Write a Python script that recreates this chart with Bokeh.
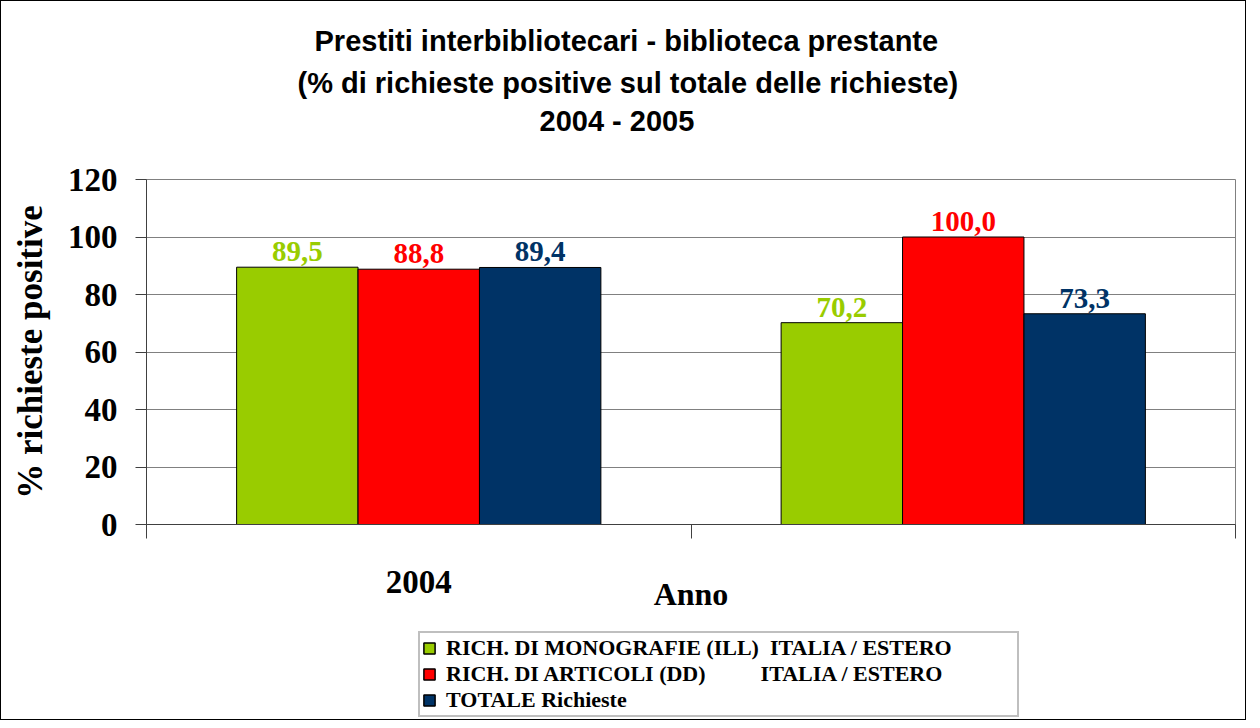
from bokeh.plotting import figure
from bokeh.layouts import column
from bokeh.models import (ColumnDataSource, Range1d, FixedTicker, Title, Legend, LegendItem)
from bokeh.transform import dodge
from bokeh.core.properties import value
from bokeh.embed import file_html
from bokeh.resources import INLINE

# ---- data ----
years = ["2004", "2005"]
monografie = [89.5, 70.2]
articoli = [88.8, 100.0]
totale = [89.4, 73.3]
series_names = ["RICH. DI MONOGRAFIE (ILL)\u00a0 ITALIA / ESTERO",
                "RICH. DI ARTICOLI (DD)" + "\u00a0" * 9 + " ITALIA / ESTERO",
                "TOTALE Richieste"]
y_ticks = [0, 20, 40, 60, 80, 100, 120]
title_lines = ["Prestiti interbibliotecari - biblioteca prestante",
               "(% di richieste positive sul totale delle richieste)",
               "2004 - 2005"]
y_label = "% richieste positive"
x_label = "Anno"

# ---- style ----
colors = ["#99CC00", "#FF0000", "#003366"]
SERIF = "Liberation Serif"
SANS = "Liberation Sans"
bar_w = 0.223
title_offsets = [168, 151, 393]     # px from frame left (line 1..3)
title_standoffs = [15, 1, 6]

src = ColumnDataSource(dict(
    x=[i + 0.5 for i in range(len(years))],
    m=monografie, a=articoli, t=totale,
    ml=[f"{v:.1f}".replace(".", ",") for v in monografie],
    al=[f"{v:.1f}".replace(".", ",") for v in articoli],
    tl=[f"{v:.1f}".replace(".", ",") for v in totale],
))
fields = [("m", "ml"), ("a", "al"), ("t", "tl")]
offsets = [-bar_w, 0.0, bar_w]

# ================= main chart =================
p = figure(width=1244, height=630, output_backend="svg", toolbar_location=None,
           x_range=Range1d(0, len(years)), y_range=Range1d(0, 120),
           min_border_left=145, min_border_right=10, min_border_top=178, min_border_bottom=107)
p.title = None
p.background_fill_color = "white"
p.border_fill_color = "white"
p.outline_line_color = "#808080"

for off, col, (field, lab) in zip(offsets, colors, fields):
    p.vbar(x=dodge("x", off, range=p.x_range), top=field, width=bar_w, source=src,
           fill_color=col, line_color="black", line_width=1)
    p.text(x=dodge("x", off, range=p.x_range), y=field, text=lab, source=src,
           text_color=col, text_font=value(SERIF), text_font_style="bold",
           text_font_size="29px", text_align="center", text_baseline="bottom", y_offset=-6)

p.xgrid.grid_line_color = None
p.ygrid.ticker = FixedTicker(ticks=y_ticks)
p.ygrid.grid_line_color = "#808080"
p.ygrid.grid_line_width = 1

ya = p.yaxis[0]
ya.ticker = FixedTicker(ticks=y_ticks)
ya.major_label_text_font = SERIF
ya.major_label_text_font_style = "bold"
ya.major_label_text_font_size = "33px"
ya.major_label_text_color = "black"
ya.major_tick_out = 11
ya.major_tick_in = 0
ya.minor_tick_line_color = None
ya.major_label_standoff = 18
ya.axis_line_color = "#404040"
ya.major_tick_line_color = "#404040"
ya.axis_label = y_label
ya.axis_label_text_font = SERIF
ya.axis_label_text_font_style = "bold"
ya.axis_label_text_font_size = "35px"
ya.axis_label_text_color = "black"
ya.axis_label_standoff = 15

xa = p.xaxis[0]
xa.ticker = FixedTicker(ticks=[0.5], minor_ticks=list(range(len(years) + 1)))
xa.major_label_overrides = {0.5: years[0]}
xa.major_tick_line_color = None
xa.major_tick_out = 0
xa.major_tick_in = 0
xa.minor_tick_out = 14
xa.minor_tick_in = 0
xa.minor_tick_line_color = "#404040"
xa.axis_line_color = "#404040"
xa.major_label_text_font = SERIF
xa.major_label_text_font_style = "bold"
xa.major_label_text_font_size = "33px"
xa.major_label_text_color = "black"
xa.major_label_standoff = 32
xa.axis_label = x_label
xa.axis_label_text_font = SERIF
xa.axis_label_text_font_style = "bold"
xa.axis_label_text_font_size = "32px"
xa.axis_label_text_color = "black"
xa.axis_label_standoff = -20

# blank spacer line between the title block and the plot area
p.add_layout(Title(text="\u00a0", text_font=SANS, text_font_size="29px", standoff=6), "above")

for i in reversed(range(len(title_lines))):
    t = Title(text=title_lines[i], align="left", text_font=SANS, text_font_style="bold",
              text_font_size="29px", text_color="black", offset=title_offsets[i],
              standoff=title_standoffs[i])
    p.add_layout(t, "above")

# ================= legend strip =================
lg = figure(width=1244, height=88, output_backend="svg", toolbar_location=None,
            x_range=Range1d(0, 2), y_range=Range1d(0, 120),
            x_axis_location=None, y_axis_location=None,
            min_border_left=145, min_border_right=10, min_border_top=0, min_border_bottom=0)
lg.title = None
lg.grid.grid_line_color = None
lg.outline_line_color = None
items = []
for off, col, (field, lab), name in zip(offsets, colors, fields, series_names):
    r = lg.vbar(x=dodge("x", off, range=lg.x_range), top=field, width=bar_w, source=src,
                fill_color=col, line_color="black", line_width=1.5)
    r.visible = False
    items.append(LegendItem(label=name, renderers=[r]))
legend = Legend(items=items, location=(272, 2), orientation="vertical")
legend.label_text_font = SERIF
legend.label_text_font_style = "bold"
legend.label_text_font_size = "22px"
legend.label_text_line_height = 1.0
legend.label_text_color = "black"
legend.glyph_width = 14
legend.glyph_height = 14
legend.label_height = 22
legend.label_width = 569
legend.label_standoff = 10
legend.spacing = 0
legend.padding = 2
legend.margin = 0
legend.inactive_fill_alpha = 0
legend.border_line_color = "#7f7f7f"
legend.border_line_width = 2
legend.background_fill_color = "white"
legend.background_fill_alpha = 1
lg.add_layout(legend)

layout = column(p, lg, spacing=0, styles={"border": "1px solid #000000"})
open("out.html", "w").write(file_html(layout, INLINE))
